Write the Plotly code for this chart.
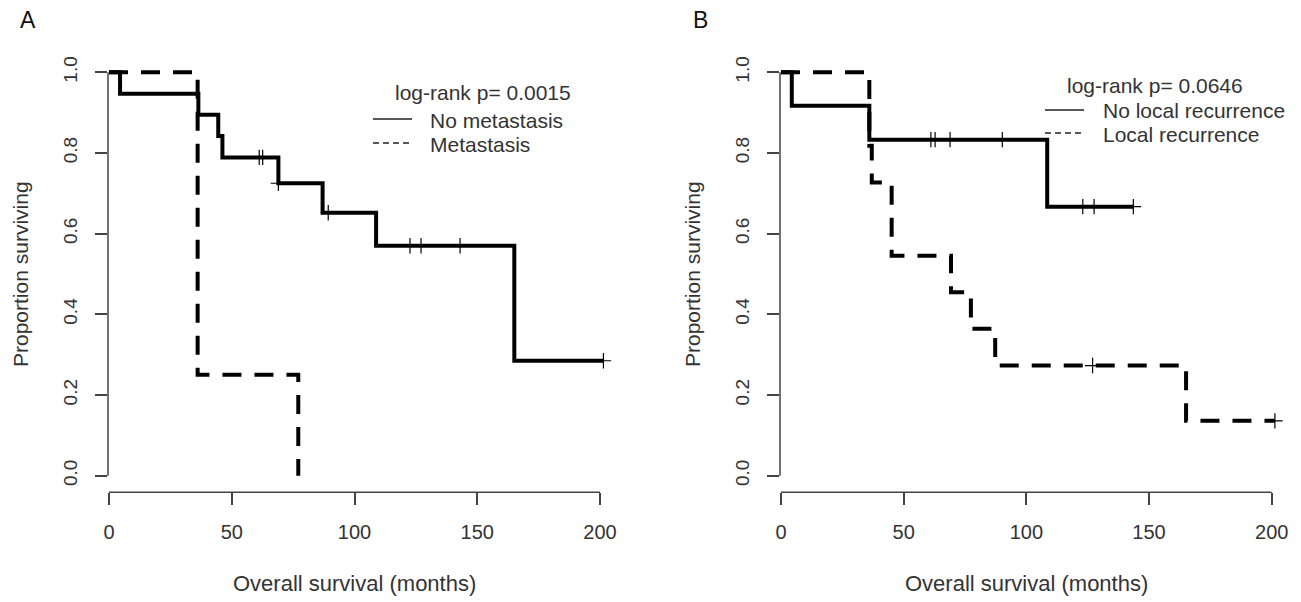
import plotly.graph_objects as go

W, H = 1301, 602

# ---------------- data ----------------
# Panel A
a_nomet_t = [0, 4.5, 36.4, 44.5, 46.2, 69.0, 87.0, 108.8, 165.1, 201.4]
a_nomet_s = [1.0, 0.947, 0.895, 0.842, 0.789, 0.725, 0.652, 0.570, 0.285, 0.285]
a_nomet_cens_t = [61.2, 62.6, 69.0, 89.3, 122.6, 127.1, 143.0, 201.4]
a_nomet_cens_s = [0.789, 0.789, 0.725, 0.652, 0.570, 0.570, 0.570, 0.285]
a_met_t = [0, 36.1, 77.1]
a_met_s = [1.0, 0.25, 0.0]

# Panel B
b_nolr_t = [0, 4.4, 36.0, 108.5, 143.6]
b_nolr_s = [1.0, 0.917, 0.833, 0.667, 0.667]
b_nolr_cens_t = [61.1, 62.8, 68.9, 90.2, 123.0, 127.6, 143.6]
b_nolr_cens_s = [0.833, 0.833, 0.833, 0.833, 0.667, 0.667, 0.667]
b_lr_t = [0, 36.0, 37.0, 45.1, 69.3, 77.4, 87.3, 165.1, 201.3]
b_lr_s = [1.0, 0.818, 0.727, 0.545, 0.455, 0.364, 0.273, 0.136, 0.136]
b_lr_cens_t = [127.0, 201.3]
b_lr_cens_s = [0.273, 0.136]

x_ticks = [0, 50, 100, 150, 200]
y_ticks = [0.0, 0.2, 0.4, 0.6, 0.8, 1.0]
y_tick_text = ["0.0", "0.2", "0.4", "0.6", "0.8", "1.0"]

panel_labels = ["A", "B"]
pvalues = ["log-rank p= 0.0015", "log-rank p= 0.0646"]
legend_names = [["No metastasis", "Metastasis"], ["No local recurrence", "Local recurrence"]]
x_title = "Overall survival (months)"
y_title = "Proportion surviving"

# ---------------- layout helpers ----------------
OFF = 8  # the page body has an 8px margin; compensate so screen pixels match

def px(x):
    return (x - OFF) / W

def py(y):
    return 1 - (y - OFF) / H

FONT = "Liberation Sans, Arial, sans-serif"
TXT = "#333333"
AX = "#444444"

# pixel geometry (screen pixels): data-0 x position, pixels per month
panels = [
    dict(x0=109.0, ppm=491.0 / 200, left=108.0, right=625.0),
    dict(x0=781.0, ppm=490.7 / 200, left=780.0, right=1297.0),
]
y0_px, y1_px = 475.7, 72.3  # pixel of survival 0 and 1
ppu = y0_px - y1_px
ybot_px, ytop_px = 492.3, 55.0

fig = go.Figure()

series = [
    (a_nomet_t, a_nomet_s, a_nomet_cens_t, a_nomet_cens_s, a_met_t, a_met_s, [], []),
    (b_nolr_t, b_nolr_s, b_nolr_cens_t, b_nolr_cens_s, b_lr_t, b_lr_s, b_lr_cens_t, b_lr_cens_s),
]

cens_marker = dict(symbol="cross-thin", size=11, line=dict(color="black", width=1.2))

for i, (st, ss, sct, scs, dt, ds, dct, dcs) in enumerate(series):
    xa = "x" if i == 0 else "x2"
    ya = "y" if i == 0 else "y2"
    fig.add_trace(go.Scatter(x=dt, y=ds, mode="lines", line=dict(color="black", width=4, dash="19px,13px", shape="hv"),
                             xaxis=xa, yaxis=ya, showlegend=False, hoverinfo="skip"))
    fig.add_trace(go.Scatter(x=st, y=ss, mode="lines", line=dict(color="black", width=4, shape="hv"),
                             xaxis=xa, yaxis=ya, showlegend=False, hoverinfo="skip"))
    fig.add_trace(go.Scatter(x=sct, y=scs, mode="markers", marker=cens_marker,
                             xaxis=xa, yaxis=ya, showlegend=False, hoverinfo="skip"))
    if dct:
        fig.add_trace(go.Scatter(x=dct, y=dcs, mode="markers", marker=cens_marker,
                                 xaxis=xa, yaxis=ya, showlegend=False, hoverinfo="skip"))

layout = dict(
    template="none",
    width=W, height=H, margin=dict(l=0, r=0, t=0, b=0, pad=0),
    paper_bgcolor="white", plot_bgcolor="white",
    font=dict(family=FONT, color=TXT, size=20),
    showlegend=False,
)

shapes = []
annotations = []
for i, p in enumerate(panels):
    sfx = "" if i == 0 else "2"
    r0 = (p["left"] - p["x0"]) / p["ppm"]
    r1 = (p["right"] - p["x0"]) / p["ppm"]
    yr0 = -(ybot_px - y0_px) / ppu
    yr1 = 1 + (y1_px - ytop_px) / ppu
    layout["xaxis" + sfx] = dict(
        domain=[px(p["left"]), px(p["right"])], range=[r0, r1], anchor="y" + sfx,
        automargin=False,
        showgrid=False, zeroline=False, showline=False,
        tickmode="array", tickvals=x_ticks, ticktext=[str(v) for v in x_ticks],
        ticks="outside", ticklen=12, tickwidth=1.5, tickcolor=AX,
        tickfont=dict(size=20, color=TXT, family=FONT), ticklabelstandoff=10,
    )
    layout["yaxis" + sfx] = dict(
        domain=[py(ybot_px), py(ytop_px)], range=[yr0, yr1], anchor="x" + sfx,
        automargin=False,
        showgrid=False, zeroline=False, showline=False,
        tickmode="array", tickvals=y_ticks, ticktext=y_tick_text, tickangle=-90,
        ticks="outside", ticklen=12, tickwidth=1.5, tickcolor=AX,
        tickfont=dict(size=19, color=TXT, family=FONT), ticklabelstandoff=10,
    )
    xa = "x" + sfx
    ya = "y" + sfx
    # axis lines spanning first to last tick (R style)
    shapes.append(dict(type="line", xref=xa, yref=ya + " domain", x0=x_ticks[0], x1=x_ticks[-1], y0=0, y1=0,
                       line=dict(color=AX, width=1.5)))
    shapes.append(dict(type="line", xref=xa + " domain", yref=ya, x0=0, x1=0, y0=y_ticks[0], y1=y_ticks[-1],
                       line=dict(color=AX, width=1.5)))
    # axis titles
    xc = p["x0"] + 100 * p["ppm"]
    annotations.append(dict(text=x_title, x=px(xc), y=py(583), xref="paper", yref="paper",
                            xanchor="center", yanchor="middle", showarrow=False, font=dict(size=22)))
    annotations.append(dict(text=y_title, x=px(p["left"] - 88), y=py((y0_px + y1_px) / 2), xref="paper", yref="paper",
                            xanchor="center", yanchor="middle", showarrow=False, textangle=-90, font=dict(size=21)))
    # panel label
    annotations.append(dict(text=panel_labels[i], x=px(p["left"] - 80), y=py(20), xref="paper", yref="paper",
                            xanchor="center", yanchor="middle", showarrow=False, font=dict(size=23, color="#111")))

# legends
leg = [
    dict(title_x=393, title_y=93, line_x0=373, line_x1=412, text_x=428, ys=[119, 143]),
    dict(title_x=1065, title_y=86, line_x0=1045, line_x1=1084, text_x=1101, ys=[110, 133]),
]
for i, L in enumerate(leg):
    annotations.append(dict(text=pvalues[i], x=px(L["title_x"]), y=py(L["title_y"]), xref="paper", yref="paper",
                            xanchor="left", yanchor="middle", showarrow=False, font=dict(size=21)))
    for j, name in enumerate(legend_names[i]):
        annotations.append(dict(text=name, x=px(L["text_x"]), y=py(L["ys"][j] + 1), xref="paper", yref="paper",
                                xanchor="left", yanchor="middle", showarrow=False, font=dict(size=21)))
        shapes.append(dict(type="line", xref="paper", yref="paper", x0=px(L["line_x0"]), x1=px(L["line_x1"]),
                           y0=py(L["ys"][j]), y1=py(L["ys"][j]),
                           line=dict(color="#222", width=1.3, dash="solid" if j == 0 else "6px,4px")))

layout["shapes"] = shapes
layout["annotations"] = annotations
fig.update_layout(**layout)
fig.write_html("out.html")
